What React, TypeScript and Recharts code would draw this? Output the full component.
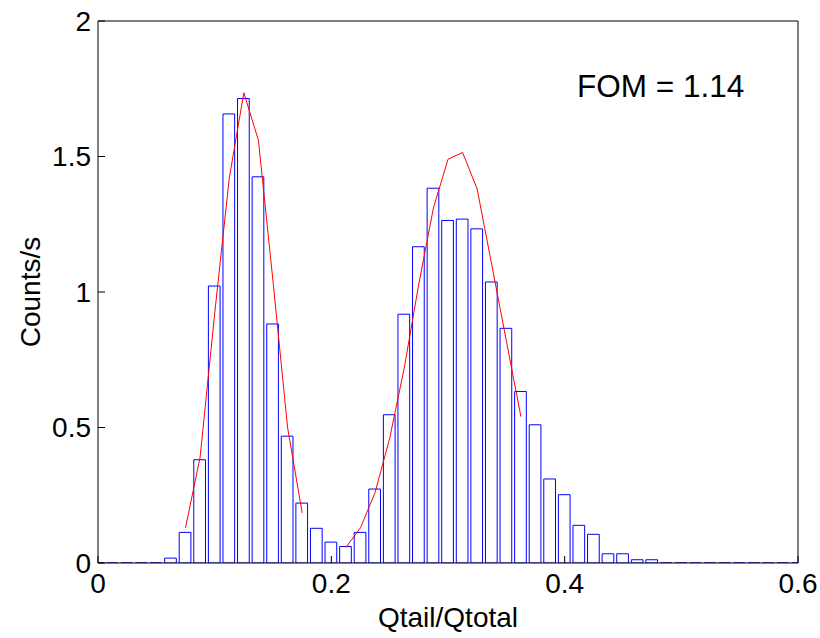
import { ComposedChart, Bar, Line, XAxis, YAxis, Label } from 'recharts';

// histogram bin centres (Qtail/Qtotal)
const binCenters = [
  0, 0.0125, 0.025, 0.0375, 0.05, 0.0625, 0.075, 0.0875, 0.1, 0.1125, 0.125, 0.1375,
  0.15, 0.1625, 0.175, 0.1875, 0.2, 0.2125, 0.225, 0.2375, 0.25, 0.2625, 0.275, 0.2875,
  0.3, 0.3125, 0.325, 0.3375, 0.35, 0.3625, 0.375, 0.3875, 0.4, 0.4125, 0.425, 0.4375,
  0.45, 0.4625, 0.475, 0.4875, 0.5, 0.5125, 0.525, 0.5375, 0.55, 0.5625, 0.575, 0.5875, 0.6,
];

// counts per second in each bin
const counts = [
  0, 0, 0, 0, 0, 0.018, 0.113, 0.381, 1.022, 1.657, 1.714, 1.425,
  0.882, 0.468, 0.221, 0.128, 0.077, 0.061, 0.113, 0.273, 0.547, 0.918, 1.167, 1.383,
  1.264, 1.269, 1.233, 1.037, 0.866, 0.633, 0.51, 0.31, 0.252, 0.139, 0.106, 0.034,
  0.034, 0.012, 0.012, 0, 0, 0, 0, 0, 0, 0, 0, 0, 0,
];

// gaussian fits (gamma peak, neutron peak)
const fit1X = [0.075, 0.0875, 0.1, 0.1125, 0.125, 0.1375, 0.15, 0.1625, 0.175];
const fit1Y = [0.13, 0.39, 0.92, 1.42, 1.735, 1.56, 1.04, 0.5, 0.185];
const fit2X = [0.2125, 0.225, 0.2375, 0.25, 0.2625, 0.275, 0.2875, 0.3, 0.3125, 0.325, 0.3375, 0.35, 0.3625];
const fit2Y = [0.058, 0.13, 0.26, 0.46, 0.72, 1.03, 1.31, 1.49, 1.515, 1.38, 1.1, 0.82, 0.54];

const xTicks = [0, 0.2, 0.4, 0.6];
const yTicks = [0, 0.5, 1, 1.5, 2];

const histData = binCenters.map((x, i) => ({ x, count: counts[i] }));
const fit1 = fit1X.map((x, i) => ({ x, fit: fit1Y[i] }));
const fit2 = fit2X.map((x, i) => ({ x, fit: fit2Y[i] }));

const FONT = '"Liberation Sans", Arial, sans-serif';
const tickStyle = { fill: '#000', fontSize: 28, fontFamily: FONT };

// matlab-style bar: zero-height bins still show as a flat line
function HistBar(props: any) {
  const { x, y, width, height } = props;
  return (
    <path
      d={`M${x},${y + height}V${y}H${x + width}V${y + height}Z`}
      fill="#fff"
      stroke="#0000ff"
      strokeWidth={1}
    />
  );
}

export default function App() {
  return (
    <div style={{ position: 'absolute', left: 0, top: 0, width: 820, height: 638, background: '#fff' }}>
      <ComposedChart
        width={820}
        height={638}
        data={histData}
        margin={{ top: 20, right: 21, bottom: 0, left: 0 }}
      >
        <XAxis
          dataKey="x"
          type="number"
          domain={[0, 0.6]}
          ticks={xTicks}
          allowDataOverflow
          height={75}
          stroke="#000"
          tickSize={-7}
          tickMargin={17}
          tick={tickStyle}
          tickFormatter={(v: number) => String(v)}
        >
          <Label
            value="Qtail/Qtotal"
            position="center"
            dy={17}
            style={{ fill: '#000', fontSize: 28, fontFamily: FONT }}
          />
        </XAxis>
        <XAxis
          xAxisId="top"
          orientation="top"
          dataKey="x"
          type="number"
          domain={[0, 0.6]}
          ticks={xTicks}
          allowDataOverflow
          height={1}
          stroke="#000"
          tickSize={-7}
          tick={false}
        />
        <YAxis
          type="number"
          domain={[0, 2]}
          ticks={yTicks}
          allowDataOverflow
          width={98}
          stroke="#000"
          tickSize={-7}
          tickMargin={14}
          tick={tickStyle}
        >
          <Label
            value="Counts/s"
            angle={-90}
            position="center"
            dx={-19}
            style={{ fill: '#000', fontSize: 28, fontFamily: FONT, textAnchor: 'middle' }}
          />
        </YAxis>
        <YAxis
          yAxisId="right"
          orientation="right"
          type="number"
          domain={[0, 2]}
          ticks={yTicks}
          allowDataOverflow
          width={1}
          stroke="#000"
          tickSize={-7}
          tick={false}
        />
        <Bar dataKey="count" barSize={11.7} shape={HistBar} isAnimationActive={false} />
        <Line
          data={fit1}
          dataKey="fit"
          type="linear"
          stroke="#ff0000"
          strokeWidth={1}
          dot={false}
          activeDot={false}
          isAnimationActive={false}
        />
        <Line
          data={fit2}
          dataKey="fit"
          type="linear"
          stroke="#ff0000"
          strokeWidth={1}
          dot={false}
          activeDot={false}
          isAnimationActive={false}
        />
      </ComposedChart>
      <svg
        width={820}
        height={638}
        style={{ position: 'absolute', left: 0, top: 0, pointerEvents: 'none' }}
      >
        <text x={577} y={97} fontSize={31.5} fontFamily={FONT} fill="#000">
          FOM = 1.14
        </text>
      </svg>
    </div>
  );
}
